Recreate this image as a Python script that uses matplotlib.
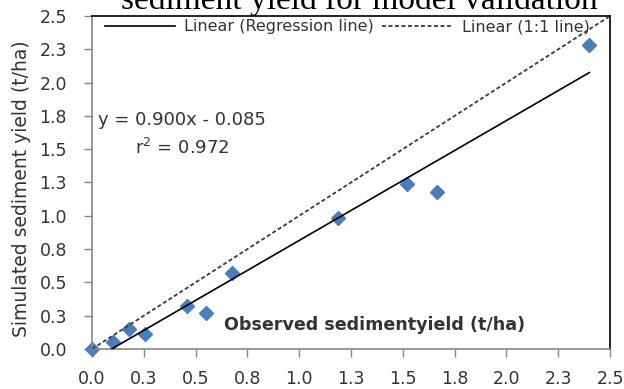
import numpy as np
import matplotlib
matplotlib.use("Agg")
import matplotlib.pyplot as plt

# ── Data: observed vs simulated sediment yield (t/ha) ──────────────────────
observed  = [0.0, 0.103, 0.18, 0.256, 0.457, 0.55, 0.674, 1.189, 1.522, 1.667, 2.40]
simulated = [0.0, 0.055, 0.148, 0.11, 0.323, 0.273, 0.568, 0.981, 1.236, 1.176, 2.282]

slope, intercept, r2 = 0.900, -0.085, 0.972

tick_vals   = [0.0, 0.25, 0.5, 0.75, 1.0, 1.25, 1.5, 1.75, 2.0, 2.25, 2.5]
tick_labels = ["0.0", "0.3", "0.5", "0.8", "1.0", "1.3", "1.5", "1.8", "2.0", "2.3", "2.5"]

FONT = "DejaVu Sans"
GREY = "#868686"
TXT  = "#333333"
H    = 389  # figure height in px, for pixel placement of free text

fig = plt.figure(figsize=(6.24, 3.89), dpi=100)
ax = fig.add_axes([92 / 624, 1 - 349 / H, (610 - 92) / 624, (349 - 16) / H])

# ── Points and lines ───────────────────────────────────────────────────────
ax.plot(observed, simulated, linestyle="none", marker="D", ms=7.5,
        color="#4a7ebb", zorder=2, clip_on=False)

xr = np.array([0.0, max(observed)])
ax.plot(xr, slope * xr + intercept, color="black", lw=1.2, zorder=3,
        label="Linear (Regression line)")
ax.plot([0.0, 2.5], [0.0, 2.5], color="#3a3a3a", lw=1.3,
        linestyle=(0, (2.2, 1.4)), zorder=3, label="Linear (1:1 line)")

ax.set_xlim(0, 2.5)
ax.set_ylim(0, 2.5)
ax.set_xticks(tick_vals)
ax.set_yticks(tick_vals)
ax.set_xticklabels(tick_labels, family=FONT, fontsize=12.5, color=TXT)
ax.set_yticklabels(tick_labels, family=FONT, fontsize=12.5, color=TXT)
ax.tick_params(axis="both", direction="out", length=6, width=1, color=GREY)
ax.tick_params(axis="x", pad=9)
ax.tick_params(axis="y", pad=12)

for side in ("left", "bottom"):
    ax.spines[side].set_color(GREY)
for side in ("top", "right"):
    ax.spines[side].set_color("black")
for s in ax.spines.values():
    s.set_linewidth(1.2)

fig.text(22 / 624, 1 - 189 / H, "Simulated sediment yield (t/ha)",
         family=FONT, fontsize=13.5, color=TXT, rotation=90,
         ha="center", va="center")

# x label sits inside the plot area
ax.text(375, H - 325, "Observed sedimentyield (t/ha)", transform=None,
        family=FONT, fontsize=12.6, fontweight="bold", color=TXT,
        ha="center", va="center")

# regression equation
ax.text(98, H - 120, f"y = {slope:.3f}x - {abs(intercept):.3f}", transform=None,
        family=FONT, fontsize=13, color=TXT, ha="left", va="center")
ax.text(135, H - 148, f"r$^2$ = {r2:.3f}", transform=None,
        family=FONT, fontsize=13, color=TXT, ha="left", va="center")

leg = ax.legend(loc="upper left", bbox_to_anchor=(0.018, 1.0), ncol=2,
                frameon=False, handlelength=4.4, handletextpad=0.6,
                columnspacing=0.5, borderaxespad=0.0, borderpad=0.2,
                prop={"family": FONT, "size": 11.5})
for t in leg.get_texts():
    t.set_color(TXT)

# figure caption tail, cut off by the top edge
fig.text(359 / 624, 1 - 9 / H, "sediment yield for model validation",
         family="Liberation Serif", fontsize=24, color="black",
         ha="center", va="baseline")

fig.savefig("out.png", dpi=100)
